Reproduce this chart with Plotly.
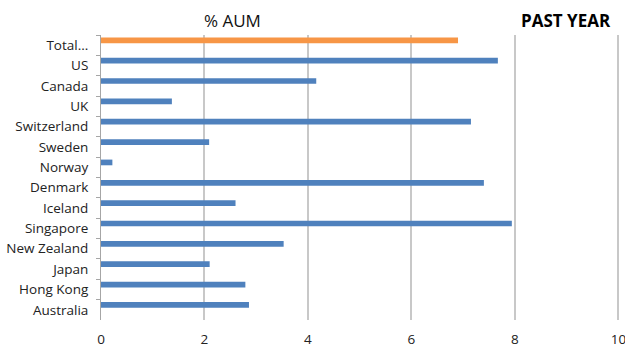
import plotly.graph_objects as go

categories = ["Total...", "US", "Canada", "UK", "Switzerland", "Sweden", "Norway",
              "Denmark", "Iceland", "Singapore", "New Zealand", "Japan", "Hong Kong", "Australia"]
values = [6.90, 7.67, 4.16, 1.37, 7.15, 2.09, 0.22, 7.40, 2.60, 7.94, 3.53, 2.10, 2.79, 2.86]
x_ticks = [0, 2, 4, 6, 8, 10]

ORANGE = "#F79646"
BLUE = "#4F81BD"
colors = [ORANGE if c.startswith("Total") else BLUE for c in categories]

FONT = "Open Sans"

fig = go.Figure(
    go.Bar(
        x=values,
        y=categories,
        orientation="h",
        marker=dict(color=colors, line=dict(width=0)),
        width=0.28,
        offset=-0.38,
        hoverinfo="x+y",
    )
)

fig.update_layout(
    width=625,
    height=350,
    margin=dict(l=101, r=4, t=35, b=30, autoexpand=False),
    paper_bgcolor="white",
    plot_bgcolor="white",
    showlegend=False,
    font=dict(family=FONT, size=13.5, color="#222222"),
    annotations=[
        dict(text="% AUM", xref="paper", yref="paper", x=0.252, y=1.05,
             xanchor="center", yanchor="middle", showarrow=False,
             font=dict(family=FONT, size=17, color="#111111")),
        dict(text="<b>PAST YEAR</b>", xref="paper", yref="paper", x=0.895, y=1.05,
             xanchor="center", yanchor="middle", showarrow=False,
             font=dict(family=FONT, size=17, color="#000000")),
    ],
)

fig.update_xaxes(
    range=[0, 10.05],
    tickvals=x_ticks,
    ticktext=[str(t) for t in x_ticks],
    showgrid=True,
    gridcolor="#c8c8c8",
    gridwidth=1.5,
    zeroline=False,
    showline=False,
    ticks="outside",
    ticklen=7,
    tickcolor="rgba(0,0,0,0)",
    automargin=False,
    ticklabeloverflow="allow",
    tickfont=dict(family=FONT, size=13.5, color="#222222"),
)

fig.update_yaxes(
    type="category",
    categoryorder="array",
    categoryarray=categories,
    range=[13.5, -0.5],
    showgrid=False,
    zeroline=False,
    showline=True,
    linecolor="#a6a6a6",
    linewidth=1,
    ticks="outside",
    tickson="boundaries",
    ticklen=4,
    tickcolor="#a6a6a6",
    ticklabelstandoff=9,
    automargin=False,
    tickfont=dict(family=FONT, size=13.5, color="#222222"),
)

fig.write_html("out.html")
